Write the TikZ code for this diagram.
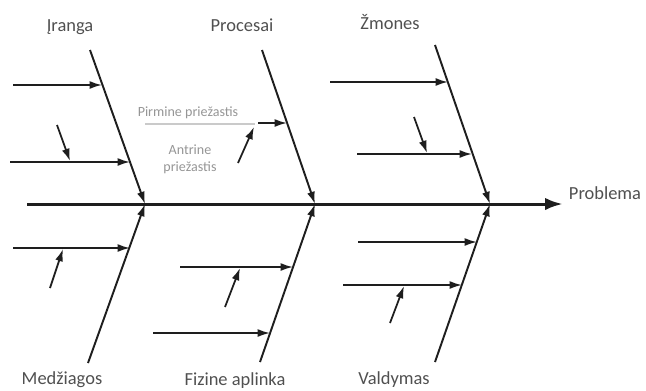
\documentclass[tikz,border=0pt]{standalone}
\usepackage{fontspec}
\setmainfont{Carlito}
\usetikzlibrary{arrows.meta}
\definecolor{boneGray}{RGB}{30,30,30}
\definecolor{labelGray}{RGB}{80,80,80}
\definecolor{noteGray}{RGB}{150,150,150}

\begin{document}
\begin{tikzpicture}[
  x=0.02cm, y=-0.02cm,
  spine/.style={-{Latex[length=10pt,width=7pt]}, line width=1.7pt, boneGray},
  bone/.style={-{Latex[length=7pt,width=4.5pt]}, line width=1.1pt, boneGray},
  cause/.style={-{Latex[length=7pt,width=4.5pt]}, line width=1pt, boneGray},
  lbl/.style={font=\fontsize{10.5}{12}\selectfont, text=labelGray},
  note/.style={font=\fontsize{8}{9.5}\selectfont, text=noteGray, align=center}
]
  \useasboundingbox (0,0) rectangle (646,390);

  % spine and head
  \node[lbl] (problem) at (605,193) {Problema};
  \coordinate (tail) at (27,204);
  \coordinate (j1) at (145,204);
  \coordinate (j2) at (315,204);
  \coordinate (j3) at (490,204);
  \draw[spine] (tail) -- (tail -| problem.west);

  % bones
  \coordinate (t1) at (90,50);
  \coordinate (t2) at (262,50);
  \coordinate (t3) at (435,45);
  \coordinate (b1) at (88,363);
  \coordinate (b2) at (260,362);
  \coordinate (b3) at (435,362);
  \draw[bone] (t1) -- (j1);
  \draw[bone] (t2) -- (j2);
  \draw[bone] (t3) -- (j3);
  \draw[bone] (b1) -- (j1);
  \draw[bone] (b2) -- (j2);
  \draw[bone] (b3) -- (j3);

  \node[lbl] (iranga) at (70,27) {Įranga};
  \node[lbl] (procesai) at (242,25) {Procesai};
  \node[lbl] (zmones) at (390,22) {Žmones};
  \node[lbl] (medziagos) at (62,380) {Medžiagos};
  \node[lbl] (aplinka) at (235,381) {Fizine aplinka};
  \node[lbl] (valdymas) at (394,380) {Valdymas};

  % Iranga causes
  \coordinate (i1s) at (13,85);  \coordinate (i1e) at (102,85);
  \coordinate (i2s) at (10,162); \coordinate (i2e) at (130,162);
  \coordinate (i3s) at (57,125); \coordinate (i3e) at (70,161);
  \draw[cause] (i1s) -- (i1e);
  \draw[cause] (i2s) -- (i2e);
  \draw[cause] (i3s) -- (i3e);

  % Procesai causes
  \node[note] (pirmine) at (188,113) {Pirmine priežastis};
  \node[note] (antrine) at (190,159) {Antrine\\priežastis};
  \coordinate (p0s) at (145,124); \coordinate (p0e) at (255,124);
  \coordinate (p1s) at (258,123); \coordinate (p1e) at (287,123);
  \coordinate (p2s) at (238,163); \coordinate (p2e) at (254,127);
  \draw[noteGray!50, line width=0.6pt] (p0s) -- (p0e);
  \draw[cause] (p1s) -- (p1e);
  \draw[cause] (p2s) -- (p2e);

  % Zmones causes
  \coordinate (z1s) at (330,82);  \coordinate (z1e) at (448,82);
  \coordinate (z2s) at (357,154); \coordinate (z2e) at (472,154);
  \coordinate (z3s) at (414,117); \coordinate (z3e) at (427,153);
  \draw[cause] (z1s) -- (z1e);
  \draw[cause] (z2s) -- (z2e);
  \draw[cause] (z3s) -- (z3e);

  % Medziagos causes
  \coordinate (m1s) at (13,248); \coordinate (m1e) at (130,248);
  \coordinate (m2s) at (50,288); \coordinate (m2e) at (63,249);
  \draw[cause] (m1s) -- (m1e);
  \draw[cause] (m2s) -- (m2e);

  % Fizine aplinka causes
  \coordinate (f1s) at (180,267); \coordinate (f1e) at (293,267);
  \coordinate (f2s) at (153,333); \coordinate (f2e) at (270,333);
  \coordinate (f3s) at (225,307); \coordinate (f3e) at (240,268);
  \draw[cause] (f1s) -- (f1e);
  \draw[cause] (f2s) -- (f2e);
  \draw[cause] (f3s) -- (f3e);

  % Valdymas causes
  \coordinate (v1s) at (358,242); \coordinate (v1e) at (477,242);
  \coordinate (v2s) at (343,285); \coordinate (v2e) at (462,285);
  \coordinate (v3s) at (390,323); \coordinate (v3e) at (404,286);
  \draw[cause] (v1s) -- (v1e);
  \draw[cause] (v2s) -- (v2e);
  \draw[cause] (v3s) -- (v3e);
\end{tikzpicture}
\end{document}
